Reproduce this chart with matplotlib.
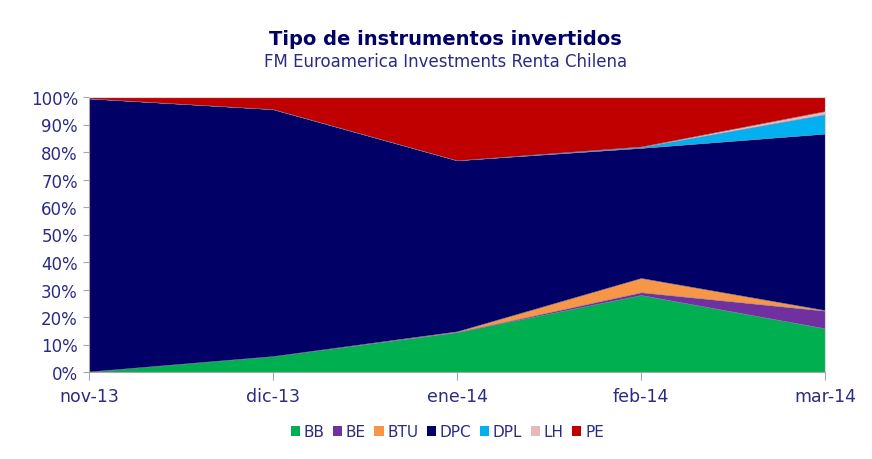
"""
Tipo de instrumentos invertidos - stacked area (100%)
"""
import matplotlib.pyplot as plt
from matplotlib.patches import Patch
import numpy as np

months = ['nov-13', 'dic-13', 'ene-14', 'feb-14', 'mar-14']
series = ['BB', 'BE', 'BTU', 'DPC', 'DPL', 'LH', 'PE']
bb = [0.2, 5.8, 14.5, 28.0, 15.9]
be = [0.0, 0.0, 0.0, 1.0, 6.4]
btu = [0.0, 0.0, 0.3, 5.2, 0.2]
dpc = [99.3, 89.8, 62.2, 47.3, 64.2]
dpl = [0.0, 0.0, 0.0, 0.3, 7.0]
lh = [0.0, 0.0, 0.0, 0.2, 1.2]
pe = [0.5, 4.4, 23.0, 18.0, 5.1]

C = {
    'BB': '#00B050', 'BE': '#7030A0', 'BTU': '#F79646', 'DPC': '#000066',
    'DPL': '#00B0F0', 'LH': '#E6B9B8', 'PE': '#C00000',
    'text': '#2B2B85', 'title': '#000066', 'axis': '#A6A6A6'
}

fig = plt.figure(figsize=(8.72, 4.6), dpi=100)
ax = fig.add_axes([89 / 872, 87 / 460, 736 / 872, 275 / 460])

x = np.arange(len(months))
data = np.array([bb, be, btu, dpc, dpl, lh, pe])
data = data / data.sum(axis=0) * 100
colors = [C[s] for s in series]
ax.stackplot(x, data, colors=colors, linewidth=0.3, edgecolor='#8080a0')

ax.set_xlim(0, len(months) - 1)
ax.set_ylim(0, 100)
ax.set_xticks(x)
ax.set_xticklabels(months, fontsize=12.5, color=C['text'])
ax.set_yticks(np.arange(0, 101, 10))
ax.set_yticklabels([f'{v}%' for v in range(0, 101, 10)], fontsize=12, color=C['text'])
ax.tick_params(axis='x', direction='out', length=6, color=C['axis'], pad=5)
ax.tick_params(axis='y', direction='out', length=4, color=C['axis'], pad=4)
for s in ax.spines.values():
    s.set_color(C['axis'])
for s in ['top', 'right']:
    ax.spines[s].set_color('#D9D9D9')

fig.text(0.511, 1 - 40 / 460, 'Tipo de instrumentos invertidos', ha='center', va='center',
         fontsize=14, fontweight='bold', color=C['title'])
fig.text(0.511, 1 - 62 / 460, 'FM Euroamerica Investments Renta Chilena', ha='center',
         va='center', fontsize=12, color=C['text'])

handles = [Patch(facecolor=C[s], edgecolor='none', label=s) for s in series]
fig.legend(handles=handles, loc='center', bbox_to_anchor=(0.513, 1 - 433 / 460), ncol=7,
           frameon=False, fontsize=11, handlelength=0.6, handleheight=0.6,
           handletextpad=0.25, columnspacing=0.55, labelcolor=C['text'])

fig.savefig('out.png', dpi=100)
